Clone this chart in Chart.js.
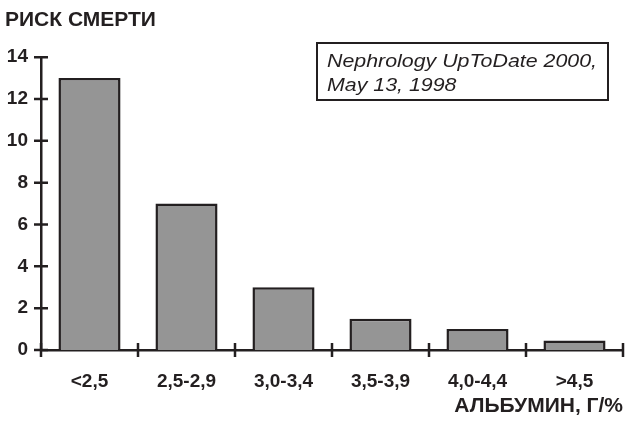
<!DOCTYPE html>
<html>
<head>
<meta charset="utf-8">
<script src="https://cdn.jsdelivr.net/npm/chart.js@4"></script>
<style>
  html, body { margin: 0; padding: 0; background: #fff; }
  #wrap { width: 626px; height: 423px; }
</style>
</head>
<body>
<div id="wrap"><canvas id="riskChart"></canvas></div>
<script>
const categories = ['<2,5', '2,5-2,9', '3,0-3,4', '3,5-3,9', '4,0-4,4', '>4,5'];
const riskValues = [13, 7, 3, 1.5, 1, 0.45];
const yTicks = [0, 2, 4, 6, 8, 10, 12, 14];
const sourceLines = ['Nephrology UpToDate 2000,', 'May 13, 1998'];

const ink = '#231f20';
const barGray = '#959595';
const fontFamily = '"Liberation Sans", Arial, sans-serif';

// tick marks that cross the axes, like the original
const crossTicks = {
    id: 'crossTicks',
    afterDatasetsDraw(chart) {
        const { ctx, scales: { x, y } } = chart;
        ctx.save();
        ctx.strokeStyle = ink;
        ctx.lineWidth = 2.5;
        ctx.beginPath();
        yTicks.forEach(v => {
            const py = y.getPixelForValue(v);
            ctx.moveTo(x.left - 7, py);
            ctx.lineTo(x.left + 7, py);
        });
        for (let i = 0; i <= categories.length; i++) {
            const px = x.getPixelForValue(i - 0.5);
            ctx.moveTo(px, y.bottom - 7);
            ctx.lineTo(px, y.bottom + 7);
        }
        ctx.stroke();
        ctx.restore();
    }
};

// boxed source note in the top right corner
const sourceBox = {
    id: 'sourceBox',
    afterDraw(chart) {
        const ctx = chart.ctx;
        ctx.save();
        ctx.strokeStyle = ink;
        ctx.lineWidth = 2;
        ctx.strokeRect(317, 43, 291, 57);
        ctx.fillStyle = ink;
        ctx.font = 'italic 18px ' + fontFamily;
        ctx.textBaseline = 'alphabetic';
        const stretch = 270 / ctx.measureText(sourceLines[0]).width;
        ctx.translate(327, 0);
        ctx.scale(stretch, 1);
        ctx.fillText(sourceLines[0], 0, 67);
        ctx.fillText(sourceLines[1], 0, 91);
        ctx.restore();
    }
};

new Chart(document.getElementById('riskChart'), {
    type: 'bar',
    data: {
        labels: categories,
        datasets: [{
            data: riskValues,
            backgroundColor: barGray,
            borderColor: ink,
            borderWidth: 2.5,
            barPercentage: 0.64,
            categoryPercentage: 1
        }]
    },
    options: {
        responsive: true,
        maintainAspectRatio: false,
        animation: false,
        layout: { padding: { left: 5, right: 3, top: 0, bottom: 0 } },
        plugins: {
            legend: { display: false },
            tooltip: { enabled: false },
            title: {
                display: true,
                text: 'РИСК СМЕРТИ',
                align: 'start',
                color: ink,
                font: { family: fontFamily, size: 21, weight: 'bold' },
                padding: { top: 8, bottom: 24 }
            }
        },
        scales: {
            x: {
                grid: { display: false, drawTicks: false },
                border: { display: true, color: ink, width: 2.5 },
                ticks: {
                    color: ink,
                    padding: 20,
                    font: { family: fontFamily, size: 19, weight: 'bold' }
                },
                title: {
                    display: true,
                    text: 'АЛЬБУМИН, Г/%',
                    align: 'end',
                    color: ink,
                    font: { family: fontFamily, size: 21, weight: 'bold' }
                },
                afterFit(scale) { scale.height = 73; }
            },
            y: {
                min: 0,
                max: 14,
                grid: { display: false, drawTicks: false },
                border: { display: true, color: ink, width: 2.5 },
                ticks: {
                    stepSize: 2,
                    color: ink,
                    padding: 13,
                    font: { family: fontFamily, size: 19, weight: 'bold' }
                },
                afterFit(scale) { scale.width = 36; }
            }
        }
    },
    plugins: [crossTicks, sourceBox]
});
</script>
</body>
</html>
